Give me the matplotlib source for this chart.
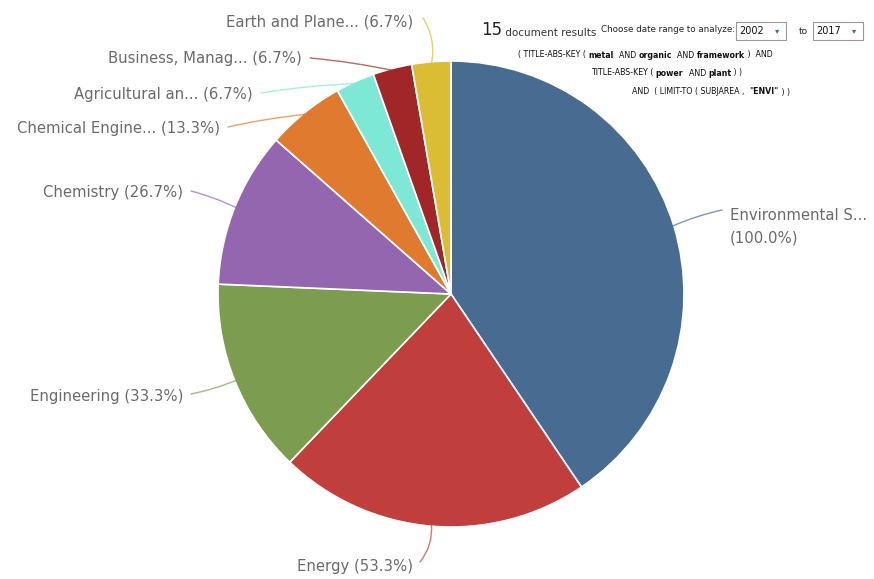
import matplotlib
matplotlib.use("Agg")
import matplotlib.pyplot as plt
import numpy as np

# ---- data ----
categories = ["Environmental S...", "Energy", "Engineering", "Chemistry",
              "Chemical Engine...", "Agricultural an...", "Business, Manag...",
              "Earth and Plane..."]
counts = [15, 8, 5, 4, 2, 1, 1, 1]
percents = ["100.0%", "53.3%", "33.3%", "26.7%", "13.3%", "6.7%", "6.7%", "6.7%"]
colors = ["#486c91", "#c03f3d", "#7c9c50", "#9466b0", "#df7a2e", "#7ee8d6",
          "#a12627", "#dbbd34"]
total_docs = 15
year_from, year_to = "2002", "2017"

W, H = 874, 579
fig = plt.figure(figsize=(W / 100, H / 100), dpi=100)
ax = fig.add_axes([0, 0, 1, 1])

def Y(y):
    return H - y

cx, cy, r = 451, 294, 233
wedges, _ = ax.pie(counts, colors=colors, startangle=90, counterclock=False,
                   center=(cx, Y(cy)), radius=r, frame=True,
                   wedgeprops=dict(edgecolor="white", linewidth=1.2))
ax.set_xlim(0, W)
ax.set_ylim(0, H)
ax.set_aspect("equal")
ax.axis("off")

# label layout (pixel positions): (x, y, ha, line end x, line end y, curvature)
label_pos = [
    (730, 226, "left", 722, 210, 0.05),
    (413, 567, "right", 420, 562, 0.2),
    (183, 397, "right", 191, 394, 0.05),
    (183, 193, "right", 191, 191, -0.05),
    (220, 129, "right", 228, 127, -0.03),
    (253, 95, "right", 261, 93, -0.03),
    (302, 59, "right", 310, 58, -0.03),
    (413, 22, "right", 423, 18, -0.2),
]
label_font = dict(fontsize=10.7, color="#6a6a6a", family="DejaVu Sans")
for w, cat, pct, col, (lx, ly, ha, ex, ey, rad) in zip(wedges, categories,
                                                       percents, colors,
                                                       label_pos):
    ang = np.deg2rad((w.theta1 + w.theta2) / 2)
    px = cx + (r - 2) * np.cos(ang)
    py = Y(cy) + (r - 2) * np.sin(ang)
    if cat.startswith("Environmental"):
        ax.text(lx, Y(215), cat, ha="left", va="center", **label_font)
        ax.text(lx, Y(238), "(" + pct + ")", ha="left", va="center", **label_font)
    else:
        ax.text(lx, Y(ly), f"{cat} ({pct})", ha=ha, va="center", **label_font)
    ax.annotate("", xy=(px, py), xytext=(ex, Y(ey)),
                arrowprops=dict(arrowstyle="-", color=col, lw=1.0, alpha=0.7,
                                shrinkA=0, shrinkB=0,
                                connectionstyle=f"arc3,rad={rad}"))

# ---- header ----
t = ax.text(481, Y(30), str(total_docs), fontsize=12, color="#222222",
            va="center", ha="left")
ax.annotate(" document results", xy=(1, 0.05), xycoords=t, va="bottom",
            fontsize=7.5, color="#333333")
ax.text(601, Y(30), "Choose date range to analyze:", fontsize=6.3,
        color="#222222", va="center", ha="left")
for bx, yr in [(736, year_from), (813, year_to)]:
    ax.add_patch(plt.Rectangle((bx, Y(40)), 50, 18, fill=False,
                               edgecolor="#999999", lw=0.8))
    ax.text(bx + 3, Y(31), yr, fontsize=7, color="#111111", va="center")
    ax.text(bx + 41, Y(31), "\u25be", fontsize=6, color="#3c6aa8",
            va="center", ha="center")
ax.text(799, Y(31), "to", fontsize=6.5, color="#222222", va="center")

def chain(x, y, parts, size=5.7):
    prev = None
    for s, bold in parts:
        kw = dict(fontsize=size, color="#111111",
                  fontweight="bold" if bold else "normal")
        if prev is None:
            prev = ax.text(x, Y(y), s, va="center", ha="left", **kw)
        else:
            prev = ax.annotate(s, xy=(1, 0), xycoords=prev, va="bottom",
                               ha="left", **kw)

chain(518, 55, [("( TITLE-ABS-KEY ( ", False), ("metal", True), ("  AND ", False),
                ("organic", True), ("  AND ", False), ("framework", True),
                (" )  AND", False)])
chain(591, 73, [("TITLE-ABS-KEY ( ", False), ("power", True), ("  AND ", False),
                ("plant", True), (" ) )", False)])
chain(632, 92, [("AND  ( LIMIT-TO ( SUBJAREA ,  ", False), ("\"ENVI\"", True),
                (" ) )", False)])

fig.savefig("out.png", dpi=100, facecolor="white")
